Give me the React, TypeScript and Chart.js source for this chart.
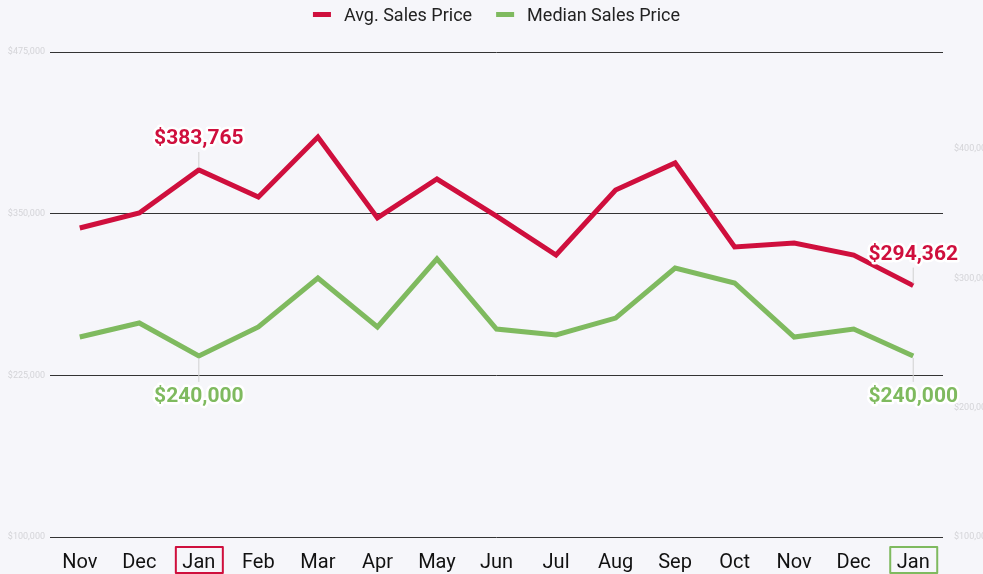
import React, { useEffect, useRef } from "react";
import { Chart, registerables } from "chart.js";

Chart.register(...registerables);

const months = ["Nov", "Dec", "Jan", "Feb", "Mar", "Apr", "May", "Jun", "Jul", "Aug", "Sep", "Oct", "Nov", "Dec", "Jan"];
const avgSalesPrice = [338900, 350500, 383765, 362900, 409300, 346700, 376800, 348100, 318000, 368300, 389200, 324200, 327300, 318000, 294362];
const medianSalesPrice = [254600, 265500, 240000, 262400, 300300, 262400, 315000, 260800, 256200, 269300, 308000, 296400, 254600, 260800, 240000];
const leftTicks = [100000, 225000, 350000, 475000];
const rightTicks = [100000, 200000, 300000, 400000];
const labelledIndices = [2, 14];

const RED = "#cf0f3d";
const GREEN = "#7fba5f";
const BG = "#f6f6fa";

const fmt = (v: number) => "$" + Math.round(v).toLocaleString("en-US");

const bgPlugin = {
  id: "bg",
  beforeDraw(chart: any) {
    const { ctx, width, height } = chart;
    ctx.save();
    ctx.fillStyle = BG;
    ctx.fillRect(0, 0, width, height);
    ctx.restore();
  },
};

// custom legend drawn at top, centred over the chart area
const legendPlugin = {
  id: "customLegend",
  afterDraw(chart: any) {
    const { ctx, chartArea } = chart;
    const ds = chart.data.datasets;
    ctx.save();
    ctx.font = "18px Roboto";
    ctx.textBaseline = "middle";
    ctx.textAlign = "left";
    const markW = 18;
    const markGap = 13;
    const itemGap = 24;
    const widths = ds.map((d: any) => markW + markGap + ctx.measureText(d.label).width);
    const total = widths.reduce((a: number, b: number) => a + b, 0) + itemGap * (ds.length - 1);
    let x = (chartArea.left + chartArea.right) / 2 - total / 2;
    const y = 15;
    ds.forEach((d: any, i: number) => {
      ctx.fillStyle = d.borderColor;
      ctx.fillRect(x, y - 3, markW, 5);
      ctx.fillStyle = "#222222";
      ctx.fillText(d.label, x + markW + markGap, y + 1);
      x += widths[i] + itemGap;
    });
    ctx.restore();
  },
};

const topSpace = {
  id: "topSpace",
  beforeInit(chart: any) {
    const lg = chart.legend;
    if (!lg) return;
    const orig = lg.fit;
    lg.fit = function () {
      orig.call(this);
      this.height = 52;
    };
  },
};

const annotPlugin = {
  id: "annot",
  afterDraw(chart: any) {
    const { ctx } = chart;
    const xs = chart.scales.x;
    ctx.save();
    const cfg = [
      { ds: 0, color: RED, dy: -31 },
      { ds: 1, color: GREEN, dy: 41 },
    ];
    ctx.font = "bold 21px Roboto";
    ctx.textAlign = "center";
    ctx.textBaseline = "middle";
    cfg.forEach((c) => {
      const meta = chart.getDatasetMeta(c.ds);
      const data = chart.data.datasets[c.ds].data as number[];
      labelledIndices.forEach((i) => {
        const pt = meta.data[i];
        const x = pt.x;
        const y = pt.y;
        const ly = y + c.dy;
        ctx.strokeStyle = "#d0d0d0";
        ctx.lineWidth = 1;
        ctx.beginPath();
        if (c.dy < 0) {
          ctx.moveTo(x, ly + 13);
          ctx.lineTo(x, y - 2);
        } else {
          ctx.moveTo(x, y + 2);
          ctx.lineTo(x, ly - 15);
        }
        ctx.stroke();
        const text = fmt(data[i]);
        ctx.lineJoin = "round";
        ctx.strokeStyle = "#ffffff";
        ctx.lineWidth = 5;
        ctx.strokeText(text, x, ly);
        ctx.fillStyle = c.color;
        ctx.fillText(text, x, ly);
      });
    });
    const boxColors = [RED, GREEN];
    labelledIndices.forEach((i, k) => {
      const cx = xs.getPixelForValue(i);
      ctx.strokeStyle = boxColors[k];
      ctx.lineWidth = 2;
      ctx.strokeRect(cx - 23, 547, 47, 26);
    });
    ctx.restore();
  },
};

export default function App() {
  const ref = useRef<HTMLCanvasElement>(null);
  useEffect(() => {
    document.body.style.margin = "0";
    const chart = new Chart(ref.current!, {
      type: "line",
      data: {
        labels: months,
        datasets: [
          {
            label: "Avg. Sales Price",
            data: avgSalesPrice,
            borderColor: RED,
            backgroundColor: RED,
            borderWidth: 5,
            pointRadius: 0,
            tension: 0,
            yAxisID: "y",
          },
          {
            label: "Median Sales Price",
            data: medianSalesPrice,
            borderColor: GREEN,
            backgroundColor: GREEN,
            borderWidth: 5,
            pointRadius: 0,
            tension: 0,
            yAxisID: "y1",
          },
        ],
      },
      options: {
        responsive: false,
        animation: false,
        layout: { padding: 0 },
        plugins: {
          legend: {
            display: true,
            position: "top",
            labels: { boxWidth: 0, boxHeight: 0, color: "rgba(0,0,0,0)", font: { size: 1 }, generateLabels: () => [] },
          },
          tooltip: { enabled: false },
        },
        scales: {
          x: {
            offset: true,
            grid: { display: false },
            border: { display: false },
            ticks: {
              color: "#111111",
              font: { family: "Roboto", size: 20 },
              padding: 6,
              maxRotation: 0,
              autoSkip: false,
            },
            afterFit(s: any) {
              s.height = 37;
            },
          },
          y: {
            position: "left",
            min: 100000,
            max: 475000,
            afterBuildTicks(s: any) {
              s.ticks = leftTicks.map((v) => ({ value: v }));
            },
            grid: { color: "#333333", lineWidth: 1, drawTicks: false },
            border: { display: false },
            ticks: {
              color: "#d4d4d8",
              font: { family: "Roboto", size: 9 },
              padding: 5,
              callback: (v: any) => fmt(Number(v)),
            },
            afterFit(s: any) {
              s.width = 50;
            },
          },
          y1: {
            position: "right",
            min: 100000,
            max: 475000,
            afterBuildTicks(s: any) {
              s.ticks = rightTicks.map((v) => ({ value: v }));
            },
            grid: { display: false },
            border: { display: false },
            ticks: {
              color: "#d4d4d8",
              font: { family: "Roboto", size: 9 },
              padding: 3,
              callback: (v: any) => fmt(Number(v)),
            },
            afterFit(s: any) {
              s.width = 40;
            },
          },
        },
      } as any,
      plugins: [bgPlugin, topSpace, legendPlugin, annotPlugin],
    });
    return () => chart.destroy();
  }, []);
  return (
    <div style={{ position: "absolute", left: 0, top: 0, width: 983, height: 574 }}>
      <canvas ref={ref} width={983} height={574} style={{ display: "block" }} />
    </div>
  );
}
